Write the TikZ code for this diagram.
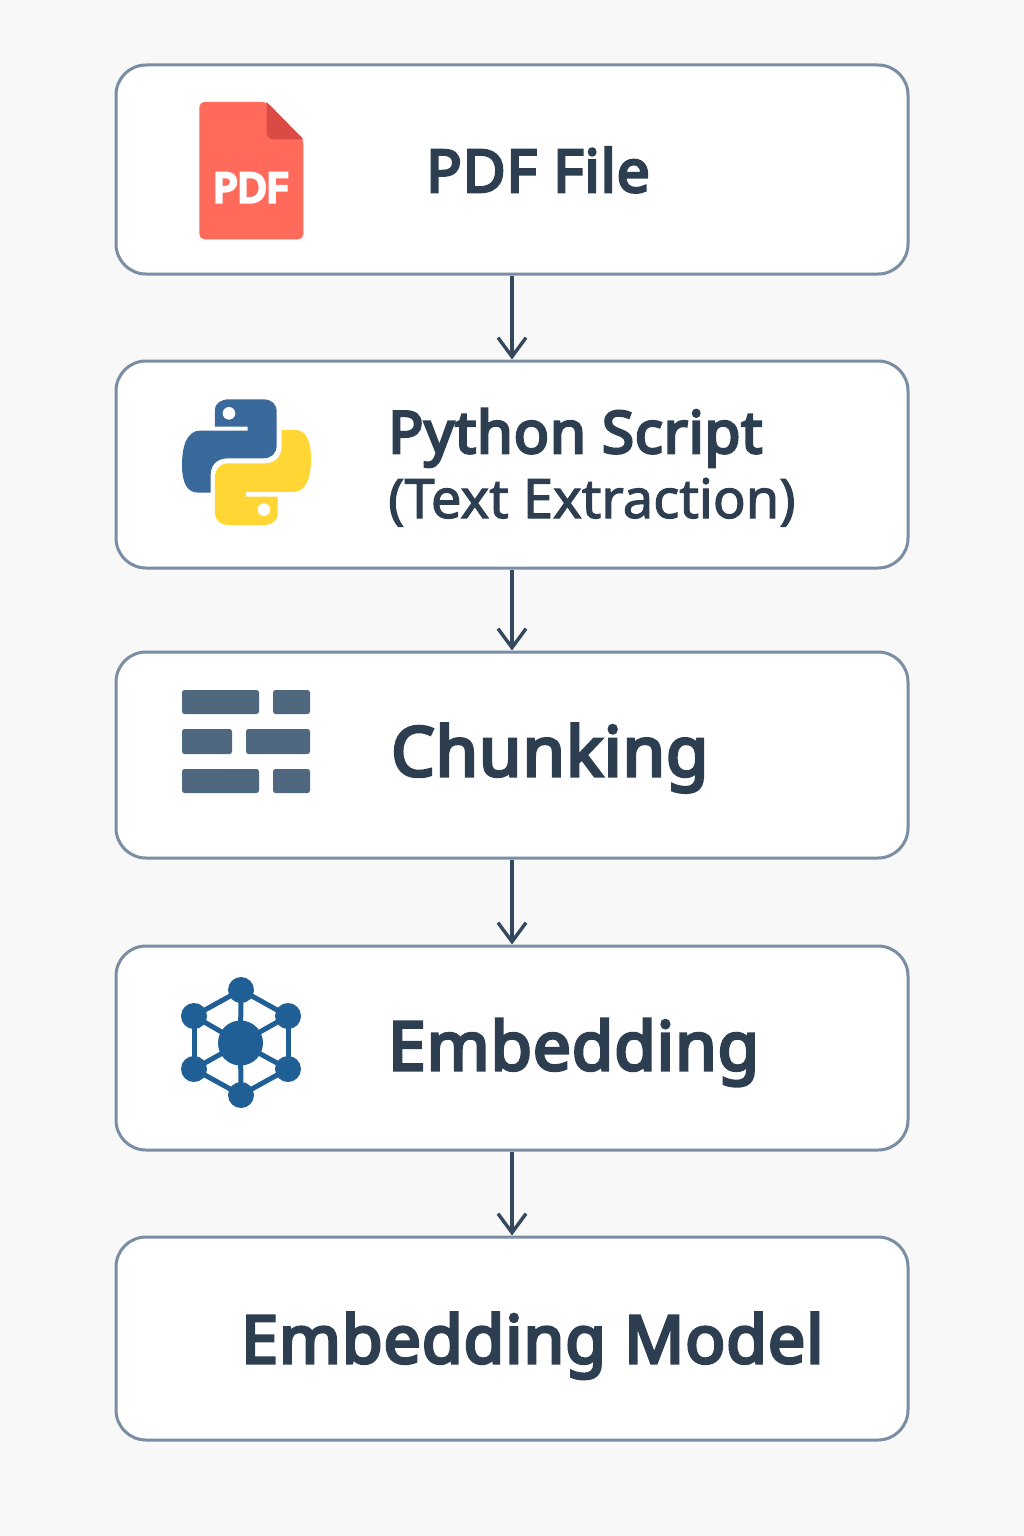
\documentclass[tikz,border=0pt]{standalone}
\usepackage{fontspec}
\setmainfont{Noto Sans}
\newfontfamily\lab{Noto Sans}[FakeBold=4.5,LetterSpace=1.5]
\newfontfamily\labl{Noto Sans}[FakeBold=2]
\newfontfamily\pdff{Noto Sans}[FakeBold=9]
\usetikzlibrary{arrows.meta}
\definecolor{pagebg}{HTML}{F8F8F8}
\definecolor{boxline}{HTML}{7B8DA3}
\definecolor{ink}{HTML}{2C3E50}
\definecolor{arrowc}{HTML}{34495E}
\definecolor{pdfred}{HTML}{FF6A5B}
\definecolor{pdffold}{HTML}{DB4B45}
\definecolor{pyblue}{HTML}{3A6A9C}
\definecolor{pyyellow}{HTML}{FFD633}
\definecolor{chunkc}{HTML}{4F6880}
\definecolor{netc}{HTML}{1F5F96}
\tikzset{
  flowbox/.style={draw=boxline,fill=white,line width=3pt,rounded corners=30pt,minimum width=792pt,inner sep=0pt},
  flowarrow/.style={draw=arrowc,line width=3.4pt,-{Straight Barb[length=19pt,width=28pt,line width=3.4pt]}},
  title/.style={text=ink,anchor=base west,inner sep=0pt},
  subtitle/.style={font=\labl\fontsize{54.3}{54.3}\selectfont,text=ink,anchor=base west,inner sep=0pt},
  chunk/.style={fill=chunkc,rounded corners=2.5pt},
  netnode/.style={circle,fill=netc,inner sep=0pt},
  netedge/.style={draw=netc,line width=5pt}
}
\begin{document}
\begin{tikzpicture}[x=1pt,y=-1pt]
\useasboundingbox (0,0) rectangle (1024,1536);
\fill[pagebg] (0,0) rectangle (1024,1536);
% boxes
\node[flowbox,minimum height=209pt] (b1) at (512,169.5) {};
\node[flowbox,minimum height=207pt] (b2) at (512,464.5) {};
\node[flowbox,minimum height=206pt] (b3) at (512,755) {};
\node[flowbox,minimum height=204pt] (b4) at (512,1048) {};
\node[flowbox,minimum height=203pt] (b5) at (512,1338.5) {};
% connectors
\draw[flowarrow] (b1.south) -- (b2.north);
\draw[flowarrow] (b2.south) -- (b3.north);
\draw[flowarrow] (b3.south) -- (b4.north);
\draw[flowarrow] (b4.south) -- (b5.north);
% labels
\node[title,font=\lab\fontsize{58.8}{58.8}\selectfont] (t1) at (426,192) {PDF File};
\node[title,font=\lab\fontsize{58.3}{58.3}\selectfont] (t2) at (388,453) {Python Script};
\node[subtitle] (t2b) at (388,518) {(Text Extraction)};
\node[title,font=\lab\fontsize{68.7}{68.7}\selectfont] (t3) at (391,776) {Chunking};
\node[title,font=\lab\fontsize{67.3}{67.3}\selectfont] (t4) at (388,1070) {Embedding};
\node[title,font=\lab\fontsize{66.2}{66.2}\selectfont] (t5) at (241,1363) {Embedding Model};
% pdf icon
\begin{scope}[shift={(170,90)},x=0.3333pt,y=-0.3333pt]
\fill[pdfred,rounded corners=5pt] (88,36) -- (290,36) -- (400,148) -- (400,448) -- (88,448) -- cycle;
\fill[pdffold] (290,36) -- (400,148) -- (312,148) .. controls (298,148) and (290,140) .. (290,126) -- cycle;
\node[font=\pdff\fontsize{40}{40}\selectfont,text=white,inner sep=0pt] (pdft) at (241,293) {PDF};
\end{scope}
% python icon
\begin{scope}[shift={(170,390)},x=0.3333pt,y=-0.3333pt]
\fill[pyblue] (135,110) -- (135,60) .. controls (135,38) and (155,28) .. (178,28)
 -- (280,28) .. controls (305,28) and (320,42) .. (320,65)
 -- (320,165) .. controls (320,190) and (305,205) .. (280,205)
 -- (175,205) .. controls (140,205) and (122,225) .. (122,255)
 -- (122,308) -- (85,308) .. controls (52,308) and (36,280) .. (36,225)
 .. controls (36,160) and (55,122) .. (90,122)
 -- (233,122) -- (233,110) -- cycle;
\fill[white] (177,70) circle[radius=6.3pt];
\fill[pyyellow] (335,120) -- (375,120) .. controls (407,120) and (423,150) .. (423,205)
 .. controls (423,270) and (405,306) .. (370,306)
 -- (228,306) -- (228,320) -- (323,320) -- (323,370) .. controls (323,392) and (305,405) .. (280,405)
 -- (178,405) .. controls (152,405) and (135,392) .. (135,368)
 -- (135,262) .. controls (135,235) and (152,220) .. (178,220)
 -- (285,220) .. controls (315,220) and (335,200) .. (335,170) -- cycle;
\fill[white] (282,359) circle[radius=6.3pt];
\end{scope}
% chunk icon
\fill[chunk] (182,690) rectangle (259,714);
\fill[chunk] (273,690) rectangle (310,714);
\fill[chunk] (182,729) rectangle (232,754);
\fill[chunk] (246,729) rectangle (310,754);
\fill[chunk] (182,769) rectangle (259,793);
\fill[chunk] (273,769) rectangle (310,793);
% network icon
\coordinate (p1) at (241,990);
\coordinate (p2) at (288,1016);
\coordinate (p3) at (288,1069);
\coordinate (p4) at (241,1095);
\coordinate (p5) at (194,1069);
\coordinate (p6) at (194,1016);
\coordinate (pc) at (240.5,1043);
\foreach \a/\b in {p1/p2,p2/p3,p3/p4,p4/p5,p5/p6,p6/p1,pc/p1,pc/p2,pc/p3,pc/p4,pc/p5,pc/p6}{
  \draw[netedge] (\a) -- (\b);
}
\node[netnode,minimum size=45pt] (nc) at (pc) {};
\node[netnode,minimum size=26pt] (n1) at (p1) {};
\node[netnode,minimum size=26pt] (n2) at (p2) {};
\node[netnode,minimum size=26pt] (n3) at (p3) {};
\node[netnode,minimum size=26pt] (n4) at (p4) {};
\node[netnode,minimum size=26pt] (n5) at (p5) {};
\node[netnode,minimum size=26pt] (n6) at (p6) {};
\end{tikzpicture}
\end{document}
